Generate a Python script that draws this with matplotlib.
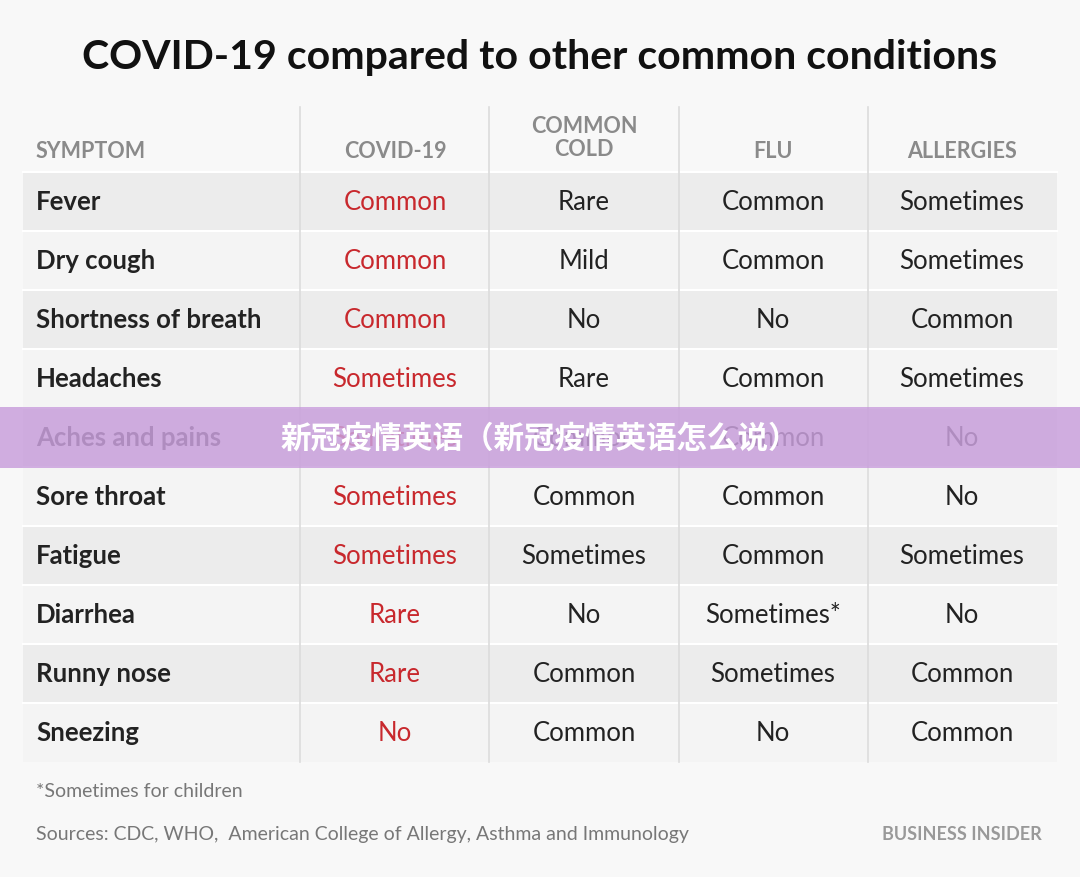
import matplotlib.pyplot as plt
from matplotlib.patches import Rectangle

title = "COVID-19 compared to other common conditions"
headers = ["SYMPTOM", "COVID-19", "COMMON\nCOLD", "FLU", "ALLERGIES"]
symptoms = ["Fever", "Dry cough", "Shortness of breath", "Headaches", "Aches and pains",
            "Sore throat", "Fatigue", "Diarrhea", "Runny nose", "Sneezing"]
covid = ["Common", "Common", "Common", "Sometimes", "Sometimes",
         "Sometimes", "Sometimes", "Rare", "Rare", "No"]
cold = ["Rare", "Mild", "No", "Rare", "Common",
        "Common", "Sometimes", "No", "Common", "Common"]
flu = ["Common", "Common", "No", "Common", "Common",
       "Common", "Common", "Sometimes*", "Sometimes", "No"]
allergies = ["Sometimes", "Sometimes", "Common", "Sometimes", "No",
             "No", "Sometimes", "No", "Common", "Common"]
footnote = "*Sometimes for children"
sources = "Sources: CDC, WHO,  American College of Allergy, Asthma and Immunology"
watermark = "新冠疫情英语（新冠疫情英语怎么说）"

fig = plt.figure(figsize=(10.8, 8.78), dpi=100)
fig.patch.set_facecolor("#f8f8f8")
ax = fig.add_axes([0, 0, 1, 1])
ax.set_xlim(0, 1080)
ax.set_ylim(878, 0)
ax.axis("off")

font = "Lato"
red = "#c8282d"
dark = "#222222"
grey = "#8a8a8a"

ax.text(540, 57, title, ha="center", va="center", fontsize=29.5, fontweight="bold",
        color="#111111", family=font)

top, row_h = 173, 59
col_x = [36, 395, 584, 773, 962]
for i in range(len(symptoms)):
    y0 = top + i * row_h
    fc = "#ececec" if i % 2 == 0 else "#f4f4f4"
    ax.add_patch(Rectangle((23, y0), 1034, row_h, facecolor=fc, edgecolor="none"))
    yc = y0 + row_h / 2
    ax.text(col_x[0], yc, symptoms[i], ha="left", va="center", fontsize=18.5,
            fontweight="bold", color=dark, family=font)
    ax.text(col_x[1], yc, covid[i], ha="center", va="center", fontsize=18.5, color=red, family=font)
    for x, col in zip(col_x[2:], [cold, flu, allergies]):
        ax.text(x, yc, col[i], ha="center", va="center", fontsize=18.5, color=dark, family=font)
    ax.plot([23, 1057], [y0, y0], color="white", lw=1.5)

for x in [300, 489, 679, 868]:
    ax.plot([x, x], [108, top + len(symptoms) * row_h], color="#dcdcdc", lw=1.2)

for j, h in enumerate(headers):
    ax.text(col_x[j], 151 if "\n" not in h else 138, h, ha="left" if j == 0 else "center",
            va="center", fontsize=15.5, fontweight="bold", color=grey, family=font, linespacing=1.1)

ax.text(36, 792, footnote, ha="left", va="center", fontsize=14, color="#777777", family=font)
ax.text(36, 835, sources, ha="left", va="center", fontsize=14, color="#777777", family=font)
ax.text(1042, 835, "BUSINESS INSIDER", ha="right", va="center", fontsize=13,
        color="#999999", family=font, fontweight="bold")

# watermark band drawn over the table
ax.add_patch(Rectangle((0, 408), 1080, 61, facecolor="#c9a0dc", alpha=0.85,
                       edgecolor="none", zorder=5))
ax.text(540, 439, watermark, ha="center", va="center", fontsize=22, fontweight="bold",
        color="white", family=["Noto Sans CJK SC", "Noto Sans CJK JP"], zorder=6)

fig.savefig("out.png", dpi=100, facecolor=fig.get_facecolor())
